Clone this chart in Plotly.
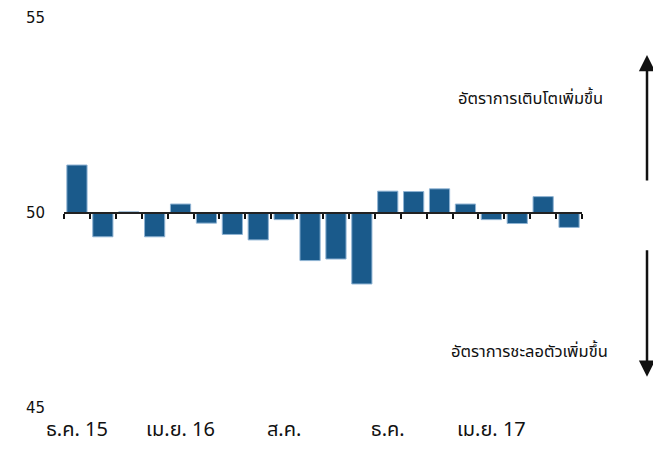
import plotly.graph_objects as go

months = ["2015-12", "2016-01", "2016-02", "2016-03", "2016-04", "2016-05", "2016-06",
          "2016-07", "2016-08", "2016-09", "2016-10", "2016-11", "2016-12", "2017-01",
          "2017-02", "2017-03", "2017-04", "2017-05", "2017-06", "2017-07"]
values = [51.23, 49.39, 50.03, 49.39, 50.23, 49.74, 49.45, 49.31, 49.83, 48.78,
          48.82, 48.18, 50.56, 50.55, 50.62, 50.23, 49.83, 49.73, 50.42, 49.63]
baseline = 50
label_months = ["2015-12", "2016-04", "2016-08", "2016-12", "2017-04"]
label_texts = ["ธ.ค. 15", "เม.ย. 16", "ส.ค.", "ธ.ค.", "เม.ย. 17"]
y_ticks = [45, 50, 55]
up_text = "อัตราการเติบโตเพิ่มขึ้น"
down_text = "อัตราการชะลอตัวเพิ่มขึ้น"

thai_font = "Noto Sans Thai, Tahoma, Loma, Garuda, sans-serif"

fig = go.Figure()
fig.add_trace(go.Bar(
    x=months, y=[v - baseline for v in values], base=baseline,
    marker=dict(color="#1a5a8b", line=dict(color="#8fb3d3", width=1)),
    xaxis="x", yaxis="y", showlegend=False, hoverinfo="skip"))
fig.add_trace(go.Scatter(
    x=months, y=[None] * len(months), xaxis="x2", yaxis="y",
    mode="markers", showlegend=False, hoverinfo="skip"))

fig.update_layout(
    width=653, height=441,
    margin=dict(l=56, r=79, t=10, b=41),
    plot_bgcolor="white", paper_bgcolor="white",
    bargap=0.22,
    xaxis=dict(type="category", categoryorder="array", categoryarray=months,
               range=[-0.5, len(months) - 0.5], automargin=False,
               tickvals=label_months, ticktext=label_texts,
               ticks="", showline=False, showgrid=False, zeroline=False,
               tickfont=dict(family=thai_font, size=20, color="#111"),
               ticklabelstandoff=7),
    xaxis2=dict(type="category", categoryorder="array", categoryarray=months,
                overlaying="x", anchor="free", position=0.5, automargin=False,
                range=[-0.5, len(months) - 0.5],
                tickvals=months, showticklabels=False,
                ticks="outside", tickson="boundaries", ticklen=5, tickwidth=2,
                tickcolor="#111", showline=True, linecolor="#222", linewidth=2,
                showgrid=False, zeroline=False),
    yaxis=dict(range=[45, 55], domain=[0, 1], tickvals=y_ticks, automargin=False,
               showgrid=False, zeroline=False, showline=False, ticks="",
               tickfont=dict(family="DejaVu Sans", size=15, color="#111"),
               ticklabelstandoff=18),
    annotations=[
        dict(xref="paper", yref="y", x=1.1255, y=54.05, ax=0, ay=127,
             axref="pixel", ayref="pixel", text="", showarrow=True,
             arrowhead=2, arrowsize=1.3, arrowwidth=2.5, arrowcolor="#111"),
        dict(xref="paper", yref="y", x=1.1255, y=45.8, ax=0, ay=-128,
             axref="pixel", ayref="pixel", text="", showarrow=True,
             arrowhead=2, arrowsize=1.3, arrowwidth=2.5, arrowcolor="#111"),
        dict(xref="paper", yref="y", x=1.0444, y=52.93, text=up_text,
             showarrow=False, xanchor="right",
             font=dict(family=thai_font, size=16.5, color="#111")),
        dict(xref="paper", yref="y", x=1.054, y=46.44, text=down_text,
             showarrow=False, xanchor="right",
             font=dict(family=thai_font, size=16.5, color="#111")),
    ],
)

fig.write_html("out.html")
